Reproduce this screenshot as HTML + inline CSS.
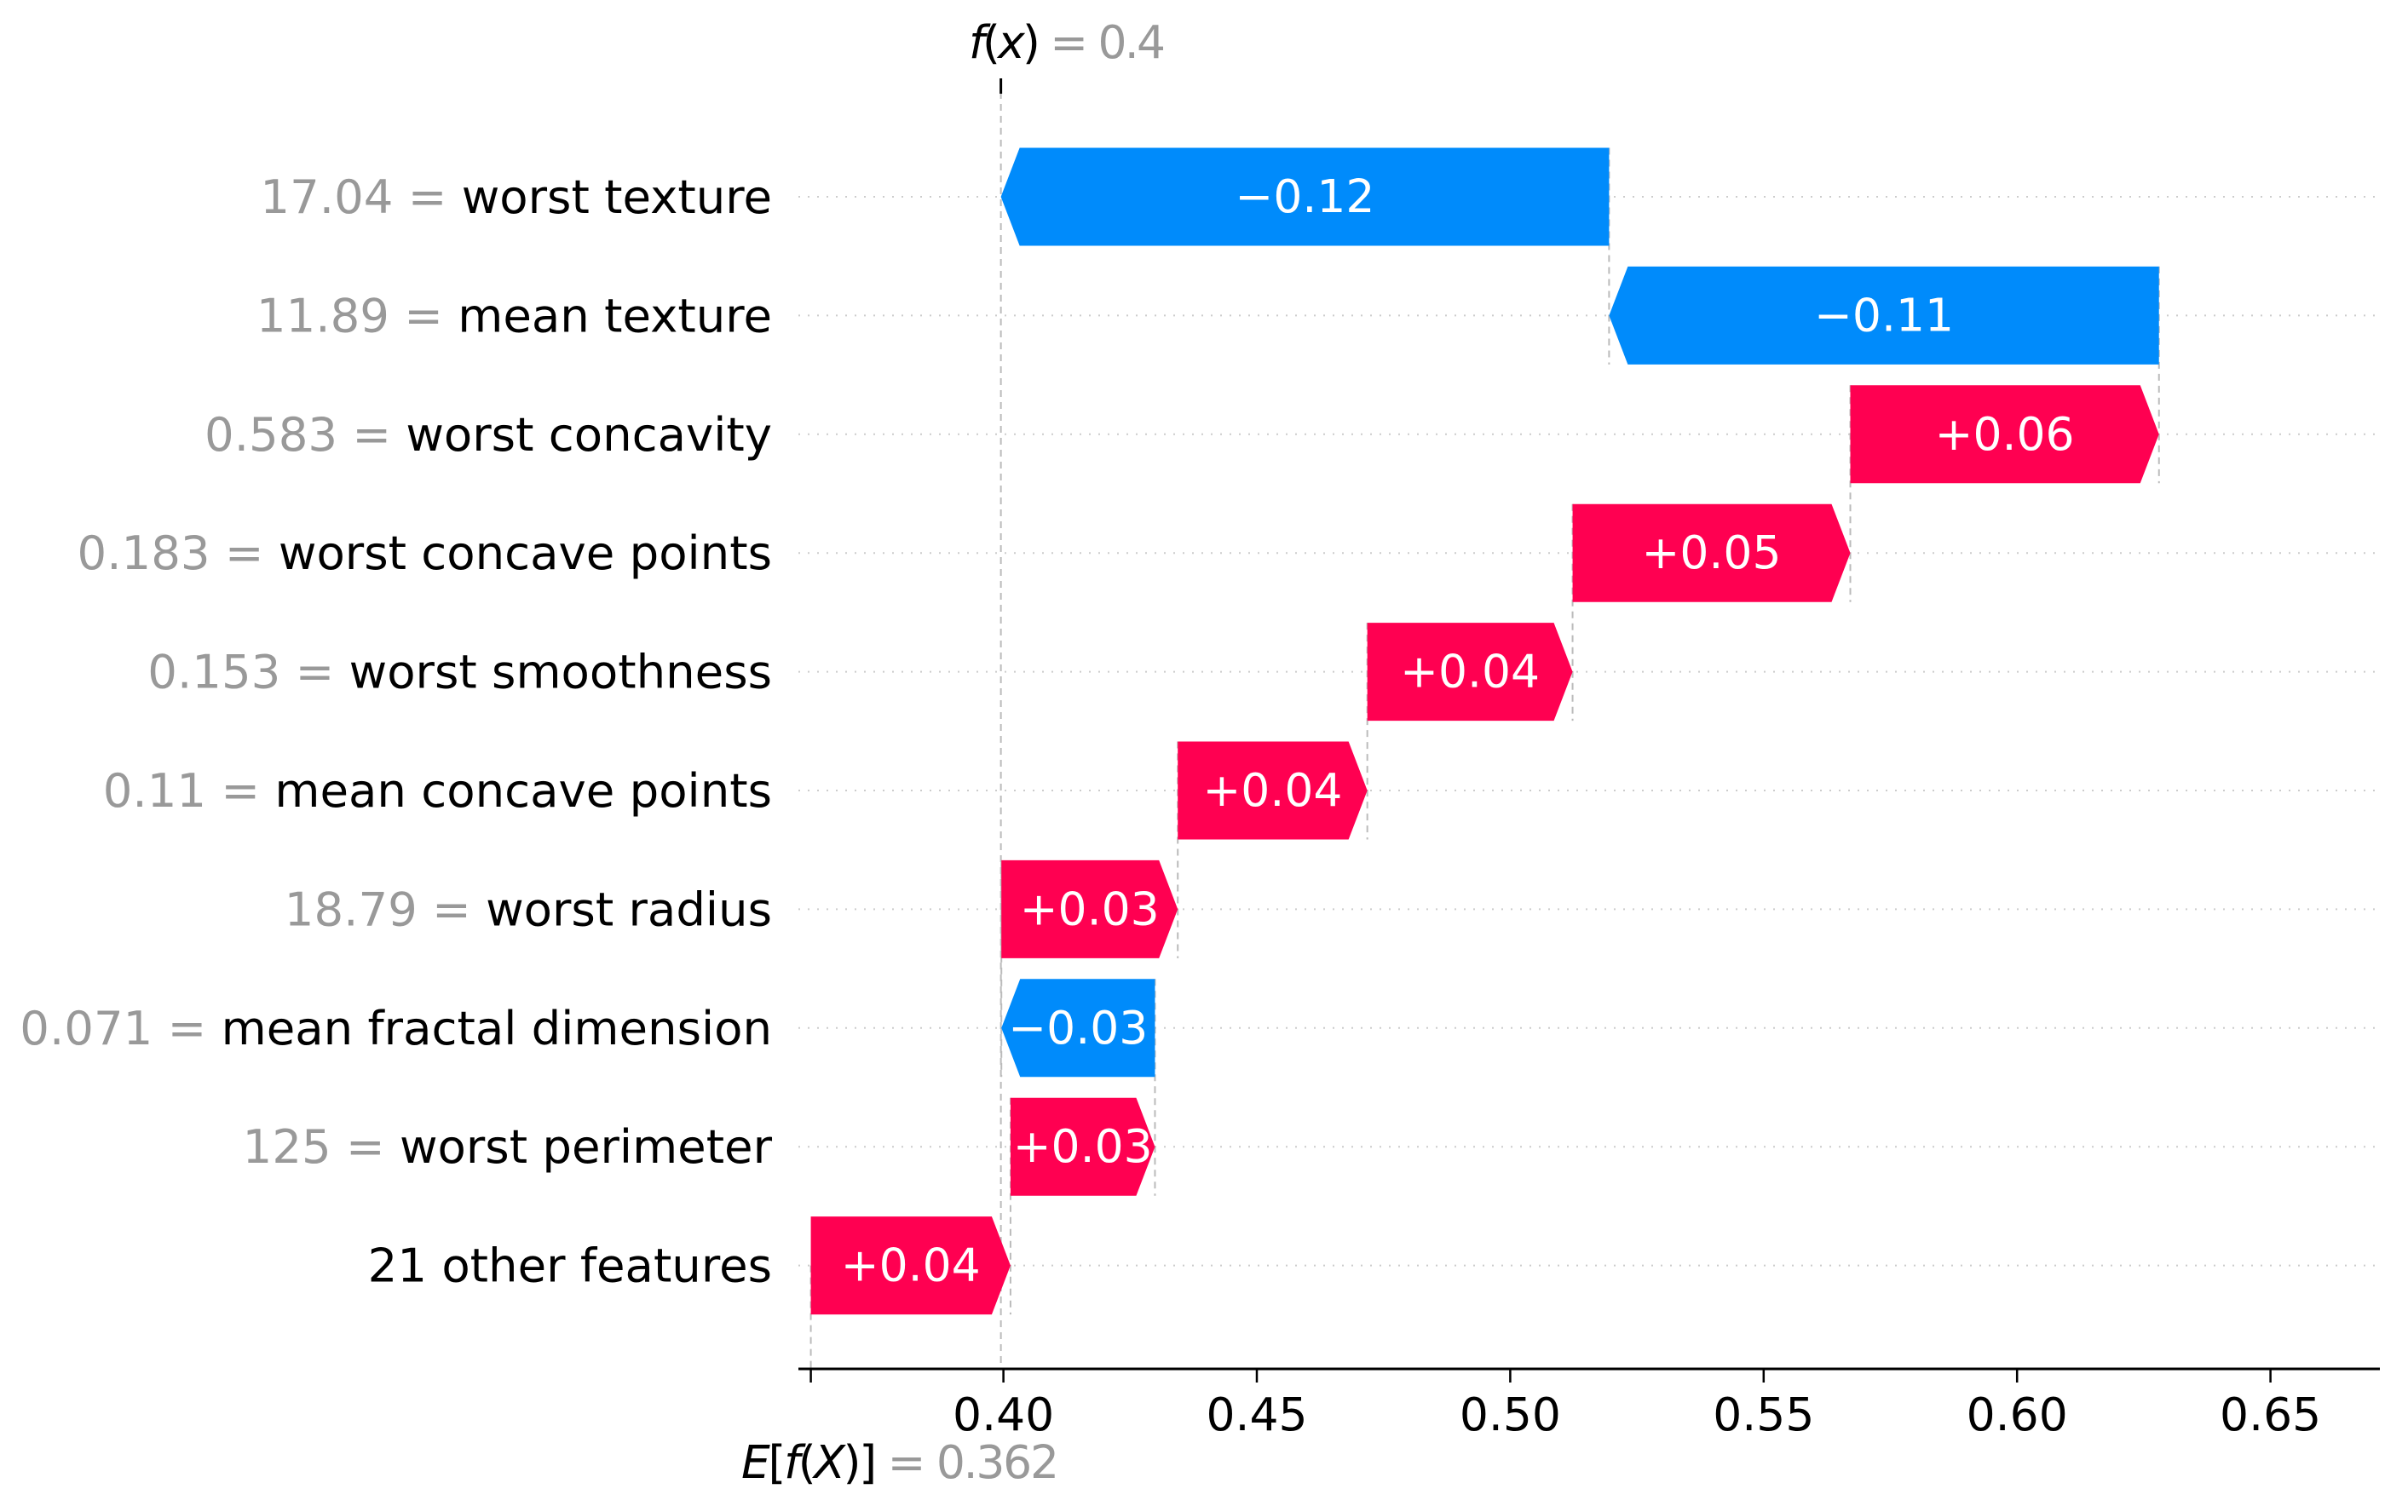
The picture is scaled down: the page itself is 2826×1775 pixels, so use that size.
<!DOCTYPE html>
<html><head><meta charset="utf-8"><style>
html,body{margin:0;padding:0;background:#fff;}
svg{display:block;font-family:"DejaVu Sans","Liberation Sans",sans-serif;}
</style></head><body>
<svg id="chart" width="2826" height="1775" viewBox="0 0 2826 1775" xmlns="http://www.w3.org/2000/svg">
<g id="grid"></g>
<g id="vlines"></g>
<g id="bars"></g>
<g id="labels"></g>
<g id="axis"></g>
</svg>
<script>
const featureNames = ["worst texture","mean texture","worst concavity","worst concave points","worst smoothness","mean concave points","worst radius","mean fractal dimension","worst perimeter","21 other features"];
const featureValues = ["17.04","11.89","0.583","0.183","0.153","0.11","18.79","0.071","125",""];
const shapValues = [-0.1200,-0.1085,0.0609,0.0548,0.0405,0.0374,0.0348,-0.0303,0.0285,0.0394];
const valueLabels = ["\u22120.12","\u22120.11","+0.06","+0.05","+0.04","+0.04","+0.03","\u22120.03","+0.03","+0.04"];
const baseValue = 0.362;
const fxLabel = "0.4";
const baseLabel = "0.362";
const xTicks = [0.40,0.45,0.50,0.55,0.60,0.65];
const xTickLabels = ["0.40","0.45","0.50","0.55","0.60","0.65"];

const NS="http://www.w3.org/2000/svg";
const X0=1177.6, PX=5948;
const x = v => X0 + (v-0.4)*PX;
const ROW0=231, ROWSTEP=139.4, BARH=115, HEAD=22;
const y = i => ROW0 + i*ROWSTEP;
const AXY=1607, XL=937, XR=2793, FS=53.5, LFS=54.5;
function mk(tag, attrs, parent){const e=document.createElementNS(NS,tag);for(const k in attrs)e.setAttribute(k,attrs[k]);parent.appendChild(e);return e;}
const grid=document.getElementById('grid'),vl=document.getElementById('vlines'),bars=document.getElementById('bars'),labs=document.getElementById('labels'),ax=document.getElementById('axis');

const n=shapValues.length;
const starts=new Array(n), ends=new Array(n);
let cur=baseValue;
for(let i=n-1;i>=0;i--){starts[i]=cur;cur+=shapValues[i];ends[i]=cur;}
const fx=cur;

for(let i=0;i<n;i++){
  const g=mk('line',{x1:XL,x2:XR,y1:y(i),y2:y(i),stroke:'#cccccc','stroke-width':2,'stroke-dasharray':'2,9'},grid);
  
  
}
let l=mk('line',{x1:x(fx),x2:x(fx),y1:108,y2:AXY,stroke:'#bbbbbb','stroke-width':2,'stroke-dasharray':'8,6'},vl);


l=mk('line',{x1:x(fx),x2:x(fx),y1:92,y2:110,stroke:'#000','stroke-width':3},vl);


l=mk('line',{x1:x(baseValue),x2:x(baseValue),y1:y(n-1),y2:AXY,stroke:'#bbbbbb','stroke-width':2,'stroke-dasharray':'8,6'},vl);


for(let i=0;i<n-1;i++){
  const cx=x(starts[i]);
  const c=mk('line',{x1:cx,x2:cx,y1:y(i)-BARH/2,y2:y(i+1)+BARH/2,stroke:'#bbbbbb','stroke-width':2,'stroke-dasharray':'8,6'},vl);
  
  
}
for(let i=0;i<n;i++){
  const a=x(starts[i]), b=x(ends[i]), cy=y(i), t=cy-BARH/2, bt=cy+BARH/2;
  const pos=shapValues[i]>0;
  const w=Math.abs(b-a); const h=Math.min(HEAD,w);
  let pts;
  if(pos){pts=[[a,t],[b-h,t],[b,cy],[b-h,bt],[a,bt]];}
  else{pts=[[a,t],[b+h,t],[b,cy],[b+h,bt],[a,bt]];}
  const p=mk('polygon',{points:pts.map(q=>q.join(',')).join(' '),fill:pos?'#ff0051':'#008bfb'},bars);
  
  
  const tx=mk('text',{x:(a+b)/2,y:cy+18,'text-anchor':'middle',fill:'#fff','font-size':FS},bars);
  tx.textContent=valueLabels[i];
  
  
  const fl=mk('text',{x:906,y:cy+19,'text-anchor':'end','font-size':LFS},labs);
  
  
  if(featureValues[i]!==""){const s=mk('tspan',{fill:'#999999'},fl);s.textContent=featureValues[i]+" = ";}
  const s2=mk('tspan',{fill:'#000'},fl);s2.textContent=featureNames[i];
}
l=mk('line',{x1:XL,x2:XR,y1:AXY,y2:AXY,stroke:'#000','stroke-width':3},ax);


const allTicks=[baseValue].concat(xTicks);
for(const v of allTicks){
  const tk=mk('line',{x1:x(v),x2:x(v),y1:AXY,y2:AXY+16,stroke:'#000','stroke-width':2.5},ax);
  
  
}
xTicks.forEach((v,k)=>{
  const t=mk('text',{x:x(v),y:1679,'text-anchor':'middle','font-size':FS,fill:'#000'},ax);
  t.textContent=xTickLabels[k];
  
  
});
let ft=mk('text',{x:1137,y:68,'font-size':FS,fill:'#000',textLength:231,lengthAdjust:'spacing'},ax);


let s=mk('tspan',{'font-style':'italic'},ft);s.textContent="f";
s=mk('tspan',{},ft);s.textContent="(";
s=mk('tspan',{'font-style':'italic'},ft);s.textContent="x";
s=mk('tspan',{},ft);s.textContent=")";
s=mk('tspan',{fill:'#999999'},ft);s.textContent=" = "+fxLabel;
let et=mk('text',{x:870,y:1735,'font-size':FS,fill:'#000',textLength:373,lengthAdjust:'spacing'},ax);


s=mk('tspan',{'font-style':'italic'},et);s.textContent="E";
s=mk('tspan',{},et);s.textContent="[";
s=mk('tspan',{'font-style':'italic'},et);s.textContent="f";
s=mk('tspan',{},et);s.textContent="(";
s=mk('tspan',{'font-style':'italic'},et);s.textContent="X";
s=mk('tspan',{},et);s.textContent=")]";
s=mk('tspan',{fill:'#999999'},et);s.textContent=" = "+baseLabel;
</script>
</body></html>
